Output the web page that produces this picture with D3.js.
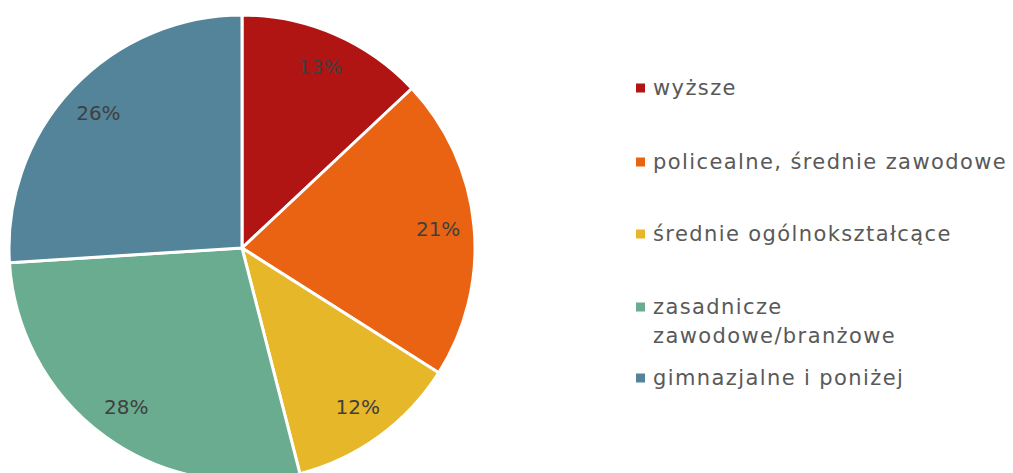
<!DOCTYPE html>
<html><head><meta charset="utf-8">
<script src="https://cdn.jsdelivr.net/npm/d3@7"></script>
<style>body{margin:0;background:#fff;}svg{display:block;font-family:"DejaVu Sans",sans-serif;}</style>
</head><body>
<svg id="c" width="1013" height="473"></svg>
<script>
const categories = ["wyższe","policealne, średnie zawodowe","średnie ogólnokształcące","zasadnicze zawodowe/branżowe","gimnazjalne i poniżej"];
const legendLines = [["wyższe"],["policealne, średnie zawodowe"],["średnie ogólnokształcące"],["zasadnicze","zawodowe/branżowe"],["gimnazjalne i poniżej"]];
const values = [13,21,12,28,26];
const colors = ["#B01513","#EA6312","#E6B729","#6AAC90","#54849A"];

const svg = d3.select("#c");
const cx = 242, cy = 248, r = 233;
const pie = d3.pie().sort(null).value(d=>d)(values);
const arc = d3.arc().innerRadius(0).outerRadius(r);
const labelArc = d3.arc().innerRadius(197).outerRadius(197);
const g = svg.append("g").attr("transform",`translate(${cx},${cy})`);
g.selectAll("path").data(pie).join("path")
  .attr("d",arc).attr("fill",(d,i)=>colors[i])
  .attr("stroke","#fff").attr("stroke-width",3).attr("stroke-linejoin","round");
g.selectAll("text").data(pie).join("text")
  .attr("transform",d=>`translate(${labelArc.centroid(d)})`)
  .attr("text-anchor","middle").attr("dominant-baseline","central")
  .attr("fill","#404040").attr("font-size",20)
  .text(d=>d.data+"%");

const legY = [88,162,234,307,378];
const lg = svg.append("g");
legendLines.forEach((lines,i)=>{
  lg.append("rect").attr("x",636).attr("y",legY[i]-4.5).attr("width",9).attr("height",9).attr("fill",colors[i]);
  lines.forEach((t,j)=>{
    lg.append("text").attr("x",653).attr("y",legY[i]+j*29).attr("dominant-baseline","central")
      .attr("fill","#595959").attr("font-size",21).attr("letter-spacing",1.4).text(t);
  });
});
</script>
</body></html>
